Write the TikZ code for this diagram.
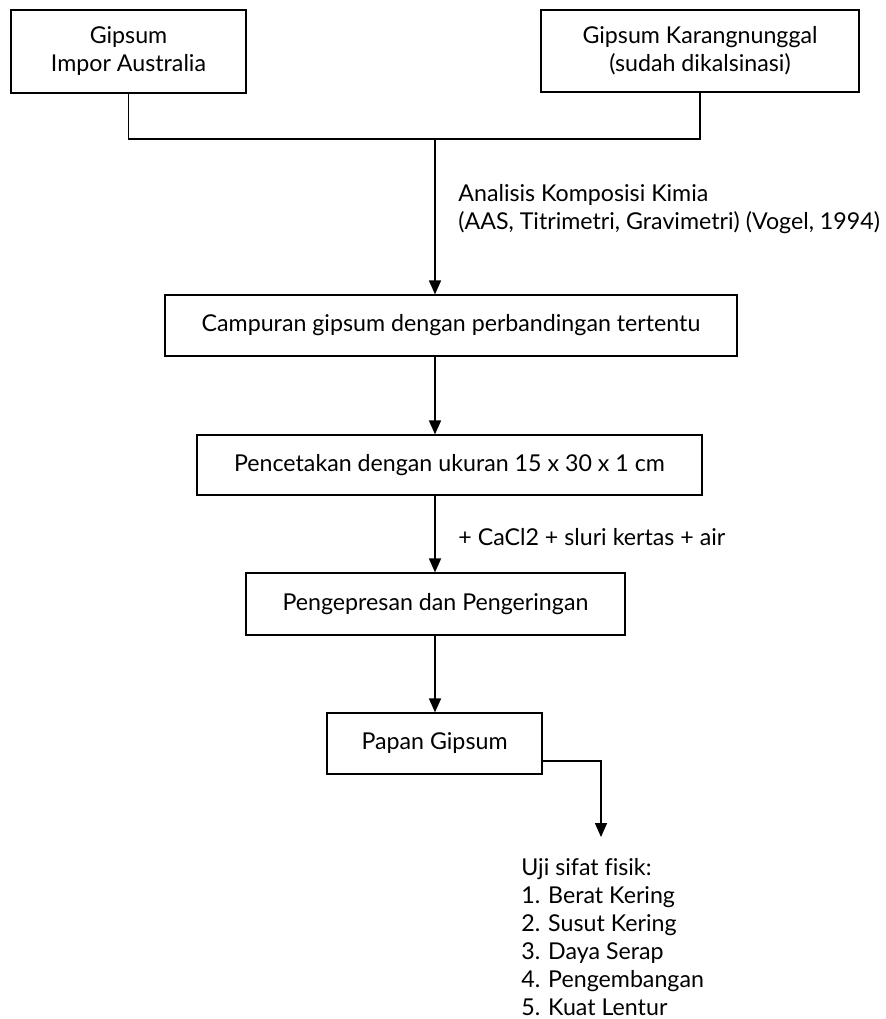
\documentclass[tikz,border=0pt]{standalone}
\usepackage{fontspec}
\setmainfont[Ligatures=NoCommon]{Lato}
\usetikzlibrary{arrows.meta,positioning}

\begin{document}
\begin{tikzpicture}[
  x=0.5pt, y=-0.5pt,
  every node/.style={font=\fontsize{11.6}{14}\selectfont},
  srcbox/.style={draw, line width=1pt, align=center, inner sep=0pt},
  procbox/.style={draw, line width=0.6pt, align=center, inner sep=0pt},
  link/.style={line width=0.8pt},
  flow/.style={line width=0.8pt, -{Triangle[length=7pt, width=6pt]}},
  note/.style={align=left, anchor=west, inner sep=0pt}
]
  \useasboundingbox (0,0) rectangle (885,1019);

  % ── Bahan baku ──
  \node[srcbox, minimum width=117.5pt, minimum height=41.5pt] (impor) at (128.5,51.5)
    {Gipsum\\Impor Australia};
  \node[srcbox, minimum width=159pt, minimum height=41pt] (karang) at (700,51)
    {Gipsum Karangnunggal\\(sudah dikalsinasi)};
  \coordinate (join) at (435,139);

  % ── Tahapan proses ──
  \node[procbox, minimum width=286pt, minimum height=30.5pt] (campur) at (451,325.5)
    {Campuran gipsum dengan perbandingan tertentu};
  \node[procbox, minimum width=252.5pt, minimum height=30pt] (cetak) at (449.5,465)
    {Pencetakan dengan ukuran 15 x 30 x 1 cm};
  \node[procbox, minimum width=189.5pt, minimum height=31pt] (press) at (435.5,604)
    {Pengepresan dan Pengeringan};
  \node[procbox, minimum width=107.5pt, minimum height=30.5pt] (papan) at (434.5,743.5)
    {Papan Gipsum};

  % ── Keterangan ──
  \node[note] (analisis) at (458,209)
    {Analisis Komposisi Kimia\\(AAS, Titrimetri, Gravimetri) (Vogel, 1994)};
  \node[note] (aditif) at (458,537) {+ CaCl2 + sluri kertas + air};
  \node[note] (uji) at (521,937)
    {Uji sifat fisik:\\1. Berat Kering\\2. Susut Kering\\3. Daya Serap\\4. Pengembangan\\5. Kuat Lentur};
  \coordinate (ujitop) at (601,837);

  % ── Penghubung ──
  \draw[link] (impor.south) |- (join) -| (karang.south);
  \draw[flow] (join) -- (join |- campur.north);
  \draw[flow] (campur.south -| join) -- (cetak.north -| join);
  \draw[flow] (cetak.south -| join) -- (press.north -| join);
  \draw[flow] (press.south -| join) -- (papan.north -| join);
  \draw[flow] (papan.east |- 0,761) -| (ujitop);

\end{tikzpicture}
\end{document}
